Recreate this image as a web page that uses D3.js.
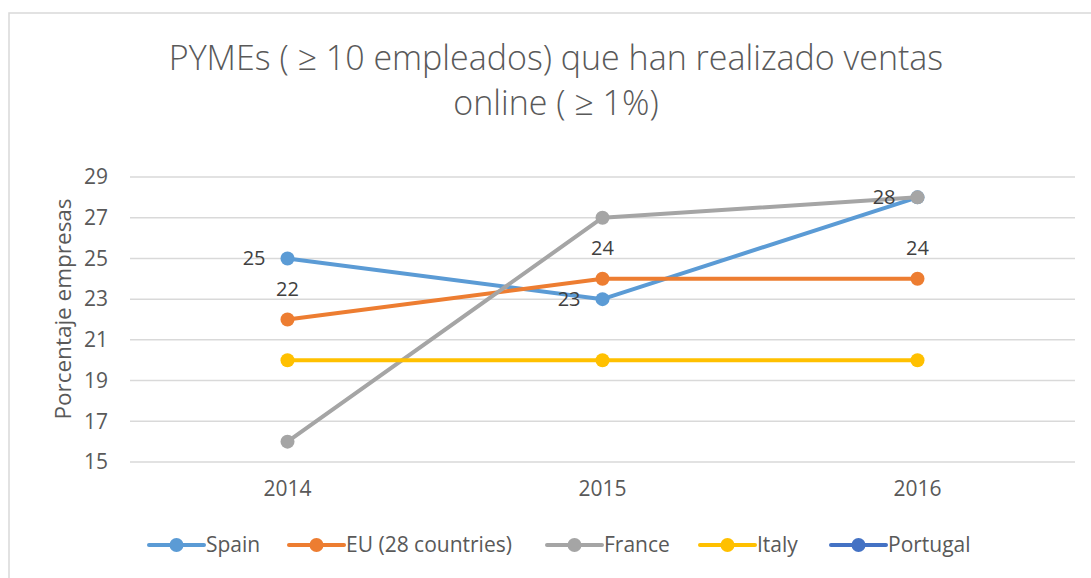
<!DOCTYPE html>
<html>
<head>
<meta charset="utf-8">
<script src="https://cdn.jsdelivr.net/npm/d3@7"></script>
<style>
  body { margin: 0; background: #fff; }
  svg { display: block; font-family: "Open Sans", "Liberation Sans", sans-serif; }
</style>
</head>
<body>
<script>
// Chart data
const years = ["2014", "2015", "2016"];
const spain = [25, 23, 28];
const eu = [22, 24, 24];
const france = [16, 27, 28];
const italy = [20, 20, 20];
const portugal = [null, null, null];
const yTicks = [15, 17, 19, 21, 23, 25, 27, 29];

const series = [
    { name: "Spain", values: spain, color: "#5B9BD5", label: "left" },
    { name: "EU (28 countries)", values: eu, color: "#ED7D31", label: "above" },
    { name: "France", values: france, color: "#A5A5A5", label: null },
    { name: "Italy", values: italy, color: "#FFC000", label: null },
    { name: "Portugal", values: portugal, color: "#4472C4", label: null }
];

const W = 1091, H = 578;
const plot = { left: 130, right: 1075, top: 177, bottom: 462 };

const svg = d3.select("body")
    .append("svg")
    .attr("width", W)
    .attr("height", H);

// outer chart border
svg.append("rect")
    .attr("x", 9)
    .attr("y", 13)
    .attr("width", W + 10)
    .attr("height", H + 10)
    .attr("fill", "#fff")
    .attr("stroke", "#d9d9d9")
    .attr("stroke-width", 1.5);

const x = d3.scaleBand()
    .domain(years)
    .range([plot.left, plot.right]);

const y = d3.scaleLinear()
    .domain([15, 29])
    .range([plot.bottom, plot.top]);

// title
const title = svg.append("text")
    .attr("text-anchor", "middle")
    .attr("fill", "#595959")
    .style("font-size", "34px")
    .style("font-weight", 300);
title.append("tspan").attr("x", 556).attr("y", 70).text("PYMEs ( ≥ 10 empleados) que han realizado ventas");
title.append("tspan").attr("x", 556).attr("y", 115).text("online ( ≥ 1%)");

// gridlines
svg.append("g")
    .selectAll("line")
    .data(yTicks)
    .join("line")
    .attr("x1", plot.left)
    .attr("x2", plot.right)
    .attr("y1", d => y(d))
    .attr("y2", d => y(d))
    .attr("stroke", "#d9d9d9")
    .attr("stroke-width", 1.5);

// y axis
const yAxis = svg.append("g")
    .attr("transform", `translate(${plot.left},0)`)
    .call(d3.axisLeft(y).tickValues(yTicks).tickSize(0).tickPadding(22));
yAxis.select(".domain").remove();
yAxis.selectAll("text")
    .attr("fill", "#595959")
    .style("font-size", "21px")
    .style("font-family", "Open Sans, sans-serif");

// x axis
const xAxis = svg.append("g")
    .attr("transform", `translate(0,${plot.bottom})`)
    .call(d3.axisBottom(x).tickSize(0).tickPadding(19));
xAxis.select(".domain").remove();
xAxis.selectAll("text")
    .attr("fill", "#595959")
    .style("font-size", "21px")
    .style("font-family", "Open Sans, sans-serif");

// y axis title
svg.append("text")
    .attr("transform", `translate(71,309) rotate(-90)`)
    .attr("text-anchor", "middle")
    .attr("fill", "#595959")
    .style("font-size", "22.5px")
    .text("Porcentaje empresas");

// lines
const line = d3.line()
    .defined(d => d != null)
    .x((d, i) => x(years[i]) + x.bandwidth() / 2)
    .y(d => y(d));

series.forEach(s => {
    svg.append("path")
        .datum(s.values)
        .attr("fill", "none")
        .attr("stroke", s.color)
        .attr("stroke-width", 4)
        .attr("stroke-linejoin", "round")
        .attr("d", line);
    svg.append("g")
        .selectAll("circle")
        .data(s.values.map((v, i) => ({ v, i })).filter(d => d.v != null))
        .join("circle")
        .attr("cx", d => x(years[d.i]) + x.bandwidth() / 2)
        .attr("cy", d => y(d.v))
        .attr("r", 7)
        .attr("fill", s.color);
});

// data labels
series.filter(s => s.label).forEach(s => {
    svg.append("g")
        .selectAll("text")
        .data(s.values.map((v, i) => ({ v, i })))
        .join("text")
        .attr("x", d => x(years[d.i]) + x.bandwidth() / 2 + (s.label === "left" ? -22 : 0))
        .attr("y", d => y(d.v) + (s.label === "left" ? 7 : -24))
        .attr("text-anchor", s.label === "left" ? "end" : "middle")
        .attr("fill", "#404040")
        .style("font-size", "20px")
        .text(d => d.v);
});

// legend
const legendX = [149, 289, 547, 700, 831];
const legend = svg.append("g");
series.forEach((s, i) => {
    const g = legend.append("g").attr("transform", `translate(${legendX[i]},545)`);
    g.append("line")
        .attr("x1", 0).attr("x2", 55)
        .attr("stroke", s.color)
        .attr("stroke-width", 4)
        .attr("stroke-linecap", "round");
    g.append("circle").attr("cx", 27.5).attr("r", 7).attr("fill", s.color);
    g.append("text")
        .attr("x", 57)
        .attr("y", 7)
        .attr("fill", "#595959")
        .style("font-size", "21px")
        .text(s.name);
});
</script>
</body>
</html>
